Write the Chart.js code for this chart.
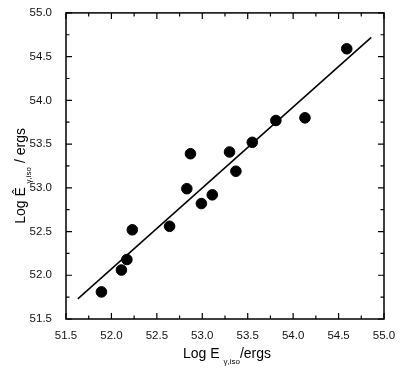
<!DOCTYPE html>
<html>
<head>
<meta charset="utf-8">
<script src="https://cdn.jsdelivr.net/npm/chart.js@4"></script>
<style>
html,body{margin:0;padding:0;background:#fff;}
canvas{display:block;}
</style>
</head>
<body>
<canvas id="c" width="410" height="373"></canvas>
<script>
// Observed data: Log E_gamma,iso (x) vs Log Ê_gamma,iso (y)
const xVals = [51.89, 52.11, 52.17, 52.23, 52.64, 52.83, 52.87, 52.99, 53.11, 53.30, 53.37, 53.55, 53.81, 54.13, 54.59];
const yVals = [51.81, 52.06, 52.18, 52.52, 52.56, 52.99, 53.39, 52.82, 52.92, 53.41, 53.19, 53.52, 53.77, 53.80, 54.59];
// Fitted line end points
const fitX = [51.63, 54.86];
const fitY = [51.73, 54.72];
// Axis range and ticks
const axisMin = 51.5, axisMax = 55.0, majorStep = 0.5, minorStep = 0.25;

const FONT = '"Liberation Sans", Arial, sans-serif';

const framePlugin = {
  id: 'frame',
  afterDraw(chart) {
    const ctx = chart.ctx;
    const a = chart.chartArea;
    const xs = chart.scales.x, ys = chart.scales.y;
    ctx.save();
    ctx.strokeStyle = '#000';
    ctx.lineWidth = 1.5;
    ctx.strokeRect(a.left, a.top, a.right - a.left, a.bottom - a.top);
    ctx.lineWidth = 1.2;
    ctx.beginPath();
    for (let v = axisMin; v <= axisMax + 1e-9; v += minorStep) {
      const major = Math.abs(v / majorStep - Math.round(v / majorStep)) < 1e-6;
      const len = major ? 6 : 3.5;
      const px = xs.getPixelForValue(v);
      const py = ys.getPixelForValue(v);
      ctx.moveTo(px, a.bottom); ctx.lineTo(px, a.bottom - len);
      ctx.moveTo(px, a.top); ctx.lineTo(px, a.top + len);
      ctx.moveTo(a.left, py); ctx.lineTo(a.left + len, py);
      ctx.moveTo(a.right, py); ctx.lineTo(a.right - len, py);
    }
    ctx.stroke();

    // Axis titles with subscripts
    const main = '14px ' + FONT, sub = '8px ' + FONT;
    function drawTitle(parts, cx, cy, rot) {
      ctx.save();
      ctx.translate(cx, cy);
      ctx.rotate(rot);
      let total = 0;
      parts.forEach(p => { ctx.font = p.sub ? sub : main; total += ctx.measureText(p.t).width; });
      let x = -total / 2;
      ctx.fillStyle = '#000';
      ctx.textBaseline = 'alphabetic';
      ctx.textAlign = 'left';
      parts.forEach(p => {
        ctx.font = p.sub ? sub : main;
        ctx.fillText(p.t, x, p.sub ? 6 : 0);
        x += ctx.measureText(p.t).width;
      });
      ctx.restore();
    }
    const cx = (a.left + a.right) / 2;
    const cy = (a.top + a.bottom) / 2;
    drawTitle([{t: 'Log E '}, {t: 'γ,iso', sub: true}, {t: '/ergs'}], cx + 2, 358, 0);
    drawTitle([{t: 'Log Ê '}, {t: 'γ,iso', sub: true}, {t: ' / ergs'}], 25, cy + 10, -Math.PI / 2);
    ctx.restore();
  }
};

new Chart(document.getElementById('c'), {
  type: 'scatter',
  data: {
    datasets: [
      {
        type: 'line',
        data: fitX.map((x, i) => ({x: x, y: fitY[i]})),
        borderColor: '#000',
        borderWidth: 1.5,
        pointRadius: 0,
        fill: false,
        order: 2
      },
      {
        data: xVals.map((x, i) => ({x: x, y: yVals[i]})),
        backgroundColor: '#000',
        borderColor: '#000',
        pointRadius: 5.3,
        pointHoverRadius: 5.3,
        order: 1
      }
    ]
  },
  options: {
    responsive: false,
    devicePixelRatio: 1,
    animation: false,
    events: [],
    layout: {padding: {left: 0, right: 26, top: 11, bottom: 0}},
    plugins: {legend: {display: false}, tooltip: {enabled: false}},
    scales: {
      x: {
        type: 'linear',
        min: axisMin, max: axisMax,
        grid: {display: false},
        border: {display: false},
        ticks: {
          stepSize: majorStep,
          color: '#111',
          font: {family: FONT, size: 11.5},
          padding: 2,
          callback: v => Number(v).toFixed(1)
        },
        afterFit: s => { s.height = 54; }
      },
      y: {
        type: 'linear',
        min: axisMin, max: axisMax,
        grid: {display: false},
        border: {display: false},
        ticks: {
          stepSize: majorStep,
          color: '#111',
          font: {family: FONT, size: 11.5},
          padding: 6,
          callback: v => Number(v).toFixed(1)
        },
        afterFit: s => { s.width = 66; }
      }
    }
  },
  plugins: [framePlugin]
});
</script>
</body>
</html>
